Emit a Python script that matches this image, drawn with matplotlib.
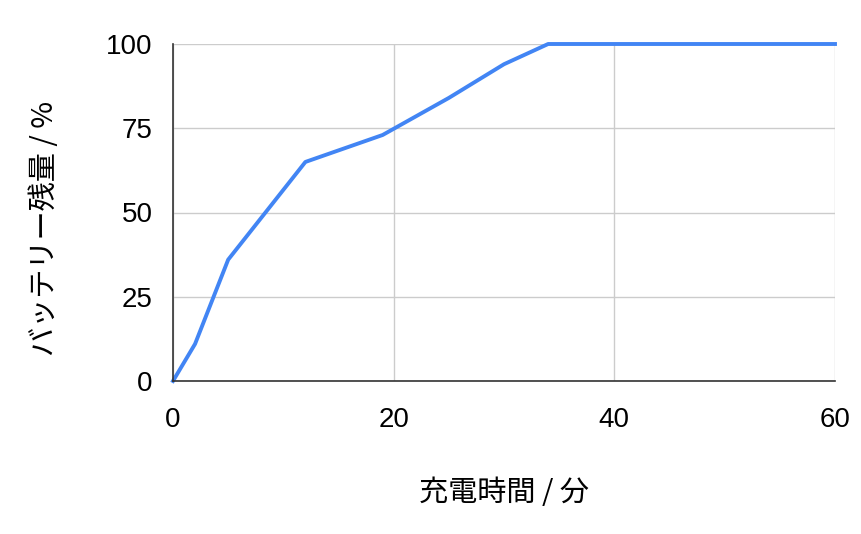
import matplotlib
matplotlib.use('Agg')
import matplotlib.pyplot as plt

# charge time (min) vs remaining battery (%)
minutes = [0, 2, 5, 12, 19, 25, 30, 34, 60]
battery = [0, 11, 36, 65, 73, 84, 94, 100, 100]

x_ticks = [0, 20, 40, 60]
y_ticks = [0, 25, 50, 75, 100]

x_label = '充電時間 / 分'
y_label = 'バッテリー残量 / %'

cjk = ['Noto Sans CJK JP', 'DejaVu Sans']
num_font = 'Liberation Sans'

fig = plt.figure(figsize=(8.62, 5.34), dpi=100)
ax = fig.add_axes([173 / 862, 1 - 381 / 534, (835 - 173) / 862, (381 - 44) / 534])

ax.plot(minutes, battery, color='#4285f4', linewidth=2.8, clip_on=False,
        solid_joinstyle='round', zorder=3)

ax.set_xlim(0, 60)
ax.set_ylim(0, 100)
ax.set_xticks(x_ticks)
ax.set_yticks(y_ticks)
ax.set_xticklabels([str(t) for t in x_ticks], fontname=num_font, fontsize=20)
ax.set_yticklabels([str(t) for t in y_ticks], fontname=num_font, fontsize=20)
ax.tick_params(length=0, colors='#000000')
ax.tick_params(axis='y', pad=14.5)
ax.tick_params(axis='x', pad=18.5)

ax.grid(True, color='#cccccc', linewidth=1)
ax.set_axisbelow(True)
for side in ['top', 'right']:
    ax.spines[side].set_visible(False)
for side in ['left', 'bottom']:
    ax.spines[side].set_color('#333333')
    ax.spines[side].set_linewidth(1.2)
    ax.spines[side].set_zorder(4)

fig.text(504 / 862, 1 - 493 / 534, x_label, ha='center', va='center',
         fontsize=21, family=cjk)
fig.text(45 / 862, 1 - 228 / 534, y_label, ha='center', va='center',
         rotation=90, fontsize=21, family=cjk)

plt.savefig('out.png', dpi=100)
plt.close()
